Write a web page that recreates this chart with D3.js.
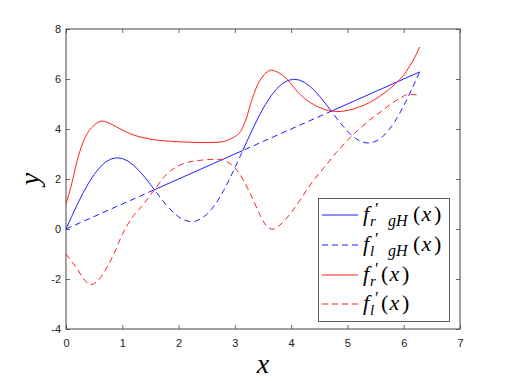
<!DOCTYPE html>
<html><head><meta charset="utf-8">
<script src="https://cdn.jsdelivr.net/npm/d3@7"></script>
<style>
html,body{margin:0;padding:0;background:#fff;}
svg{display:block;}
</style></head>
<body>
<svg id="chart" width="508" height="381"></svg>
<script>
// ---- data ----
const xTicks = [0,1,2,3,4,5,6,7];
const yTicks = [-4,-2,0,2,4,6,8];

// f'_r gH (blue solid)
const blueSolidX = [0,0.1,0.2,0.3,0.4,0.5,0.6,0.7,0.8,0.9,1.0,1.1,1.2,1.3,1.4,1.5,1.5708,3.1416,
  3.2416,3.3416,3.4416,3.5416,3.6416,3.7416,3.8416,3.9416,4.0416,4.1416,4.2416,4.3416,4.4416,4.5416,4.6416,4.7124,6.2832];
const blueSolidY = [0,0.497,0.979,1.429,1.835,2.183,2.464,2.671,2.799,2.848,2.819,2.717,2.551,2.331,2.070,1.782,1.5708,3.1416,
  3.639,4.121,4.571,4.977,5.325,5.606,5.813,5.941,5.990,5.961,5.859,5.693,5.473,5.212,4.924,4.7124,6.2832];

// f'_l gH (blue dashed)
const blueDashX = [0,1.5708,1.6,1.7,1.8,1.9,2.0,2.1,2.2,2.3,2.4,2.5,2.6,2.7,2.8,2.9,3.0,3.1,3.1416,4.7124,
  4.7416,4.8416,4.9416,5.0416,5.1416,5.2416,5.3416,5.4416,5.5416,5.6416,5.7416,5.8416,5.9416,6.0416,6.1416,6.2416,6.2832];
const blueDashY = [0,1.5708,1.483,1.189,0.915,0.676,0.486,0.357,0.297,0.313,0.408,0.582,0.833,1.154,1.537,1.971,2.441,2.934,3.1416,4.7124,
  4.625,4.331,4.057,3.818,3.628,3.499,3.439,3.455,3.550,3.724,3.975,4.296,4.679,5.113,5.583,6.076,6.2832];

// f'_r (red solid)
const redSolidX = [0,0.1,0.2,0.3,0.4,0.5,0.64,0.8,1.0,1.2,1.4,1.6,1.8,2.0,2.2,2.4,2.6,2.8,2.9,3.0,3.1,3.2,3.3,3.4,3.5,3.6,3.65,3.7,3.8,3.9,4.0,4.1,4.2,4.3,4.4,4.55,4.7,4.85,5.0,5.2,5.4,5.6,5.8,5.9,6.0,6.1,6.2,6.283];
const redSolidY = [1.0,1.8,2.75,3.45,3.9,4.15,4.32,4.2,3.96,3.76,3.64,3.56,3.52,3.49,3.47,3.46,3.46,3.5,3.58,3.7,3.9,4.4,5.15,5.75,6.12,6.32,6.36,6.33,6.22,6.05,5.8,5.52,5.3,5.12,4.98,4.82,4.72,4.70,4.74,4.87,5.07,5.35,5.7,5.92,6.15,6.5,6.88,7.28];

// f'_l (red dashed)
const redDashX = [0,0.1,0.2,0.3,0.43,0.55,0.7,0.85,1.0,1.15,1.35,1.57,1.75,1.95,2.15,2.35,2.55,2.72,2.85,3.0,3.15,3.3,3.45,3.58,3.68,3.8,4.0,4.2,4.4,4.6,4.8,5.0,5.2,5.4,5.6,5.8,5.95,6.08,6.18,6.283];
const redDashY = [-1.0,-1.3,-1.6,-1.95,-2.23,-2.1,-1.65,-1.0,-0.22,0.38,0.92,1.57,2.1,2.47,2.66,2.74,2.78,2.79,2.7,2.45,1.96,1.29,0.55,0.08,-0.01,0.16,0.65,1.3,1.95,2.5,3.05,3.55,3.98,4.37,4.7,5.05,5.25,5.39,5.38,5.3];

// legend subscripts: [first subscript, second subscript]
const legendSubs = [["r","gH"],["l","gH"],["r",""],["l",""]];

// ---- drawing ----
const svg = d3.select("#chart");
const L = 66, R = 460, T = 29, B = 329;
const x = d3.scaleLinear().domain([0,7]).range([L,R]);
const y = d3.scaleLinear().domain([-4,8]).range([B,T]);

const axisColor = "#444";
const tickFont = "Liberation Sans, Arial, Helvetica, sans-serif";

function styleAxis(g){
  g.select(".domain").remove();
  g.selectAll(".tick line").attr("stroke", axisColor).attr("stroke-width",0.8);
  g.selectAll(".tick text").attr("fill","#222").style("font-family",tickFont).style("font-size","11px");
}
svg.append("g").attr("transform",`translate(0,${B})`)
  .call(d3.axisBottom(x).tickValues(xTicks).tickSize(-4).tickPadding(10.5).tickFormat(d3.format("d")))
  .call(styleAxis);
svg.append("g").attr("transform",`translate(0,${T})`)
  .call(d3.axisTop(x).tickValues(xTicks).tickSize(-4).tickFormat(""))
  .call(styleAxis);
svg.append("g").attr("transform",`translate(${L},0)`)
  .call(d3.axisLeft(y).tickValues(yTicks).tickSize(-4).tickPadding(5).tickFormat(d=>String(d)))
  .call(styleAxis);
svg.append("g").attr("transform",`translate(${R},0)`)
  .call(d3.axisRight(y).tickValues(yTicks).tickSize(-4).tickFormat(""))
  .call(styleAxis);

svg.append("rect").attr("x",L).attr("y",T).attr("width",R-L).attr("height",B-T)
  .attr("fill","none").attr("stroke",axisColor).attr("stroke-width",1);

// lines
const line = d3.line().x(d=>x(d[0])).y(d=>y(d[1]));
const lineSmooth = d3.line().x(d=>x(d[0])).y(d=>y(d[1])).curve(d3.curveMonotoneX);
const zip = (a,b)=>a.map((v,i)=>[v,b[i]]);
const series = [
  {pts: zip(blueSolidX, blueSolidY), color:"#1f1fff", dash:"none", gen:line},
  {pts: zip(blueDashX, blueDashY), color:"#1f1fff", dash:"6,4", gen:line},
  {pts: zip(redSolidX, redSolidY), color:"#ff1f1f", dash:"none", gen:lineSmooth},
  {pts: zip(redDashX, redDashY), color:"#ff1f1f", dash:"6,4", gen:lineSmooth}
];
series.forEach(s=>{
  svg.append("path").attr("d", s.gen(s.pts))
    .style("fill","none").style("stroke", s.color).style("stroke-width","1px")
    .style("stroke-dasharray", s.dash);
});

// axis labels
const mathFont = "'Liberation Serif', 'Times New Roman', serif";
svg.append("text").attr("x",263).attr("y",373).attr("text-anchor","middle")
  .style("font-family",mathFont).style("font-style","italic").style("font-size","28px").text("x");
svg.append("text").attr("transform","translate(39,179) rotate(-90)").attr("text-anchor","middle")
  .style("font-family",mathFont).style("font-style","italic").style("font-size","28px").text("y");

// legend
const lg = {x:318.5, y:198.5, w:131, h:123};
svg.append("rect").attr("x",lg.x).attr("y",lg.y).attr("width",lg.w).attr("height",lg.h)
  .style("fill","#fff").style("stroke","#333").style("stroke-width","0.8px");
const rowY = [215, 245, 275, 304];
series.forEach((s,i)=>{
  const ly = rowY[i];
  svg.append("line").attr("x1",322).attr("x2",358).attr("y1",ly).attr("y2",ly)
    .style("stroke",s.color).style("stroke-width","1px").style("stroke-dasharray",s.dash);
  const base = ly + 6;
  const g = svg.append("g").style("font-family",mathFont).style("fill","#000");
  g.append("text").attr("x",363).attr("y",base).style("font-style","italic").style("font-size","22px").text("f");
  g.append("text").attr("x",375).attr("y",base-7).style("font-size","17px").text("\u2032");
  g.append("text").attr("x",370).attr("y",base+5).style("font-style","italic").style("font-size","15px").text(legendSubs[i][0]);
  let px = 381;
  if (legendSubs[i][1]) {
    g.append("text").attr("x",388).attr("y",base+5).style("font-style","italic").style("font-size","16px").text(legendSubs[i][1]);
    px = 413;
  }
  g.append("text").attr("x",px).attr("y",base).style("font-size","22px").text("(");
  g.append("text").attr("x",px+8.5).attr("y",base).style("font-style","italic").style("font-size","22px").text("x");
  g.append("text").attr("x",px+21).attr("y",base).style("font-size","22px").text(")");
});
</script>
</body></html>
